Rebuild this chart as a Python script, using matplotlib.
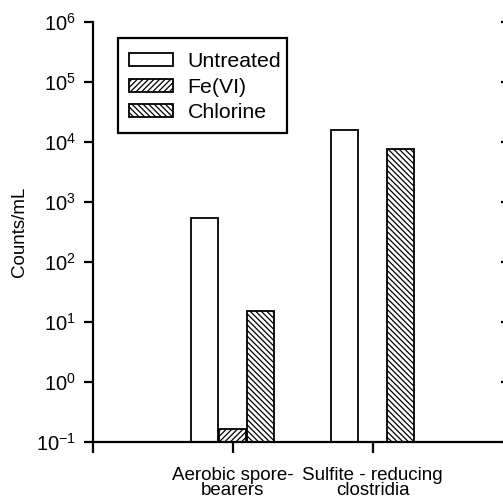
import numpy as np
import matplotlib
matplotlib.use("Agg")
import matplotlib.pyplot as plt
from matplotlib.ticker import LogLocator, NullLocator, FixedLocator
from matplotlib.patches import Rectangle
from matplotlib.transforms import ScaledTranslation
import matplotlib.lines as mlines

plt.rcParams['font.family'] = ['Liberation Sans', 'DejaVu Sans']
plt.rcParams['mathtext.fontset'] = 'custom'
plt.rcParams['mathtext.rm'] = 'Liberation Sans'
plt.rcParams['hatch.linewidth'] = 0.9

categories = ["Aerobic spore-\nbearers", "Sulfite - reducing\nclostridia"]
series_names = ["Untreated", "Fe(VI)", "Chlorine"]
untreated = [530, 15700]
fe_vi = [0.16, np.nan]
chlorine = [15, 7470]
hatches = ["", "//////", "\\\\\\\\\\\\"]

fig = plt.figure(figsize=(5.03, 5.04), dpi=100)
ax = fig.add_axes([92.7/503, 62.3/504, 420/503, 420/504])

x = np.arange(1, len(categories) + 1)
width = 0.19
offsets = [-0.2, 0.0, 0.2]
for vals, name, h, off in zip([untreated, fe_vi, chlorine], series_names, hatches, offsets):
    v = np.array(vals, dtype=float)
    ax.bar(x + off, v - 0.1, bottom=0.1, width=width, color="white",
           edgecolor="black", linewidth=1.3, hatch=h, label=name)

ax.set_yscale('log')
ax.set_ylim(0.1, 1e6)
ax.set_xlim(0, 3)
ax.yaxis.set_major_locator(LogLocator(base=10, numticks=20))
ax.yaxis.set_minor_locator(NullLocator())
ax.set_xticks(x)
ax.set_xticklabels(categories, fontsize=13.5, linespacing=0.9)
ax.xaxis.set_minor_locator(FixedLocator([0, 3]))
for lab in ax.get_xticklabels():
    lab.set_transform(lab.get_transform() + ScaledTranslation(-6/100, 0, fig.dpi_scale_trans))
ax.xaxis.label.set_visible(False)

for s in ['top', 'right']:
    ax.spines[s].set_visible(False)
for s in ['left', 'bottom']:
    ax.spines[s].set_linewidth(1.6)

ax.tick_params(axis='y', which='major', direction='out', length=6.5, width=1.6,
               labelsize=14.5, pad=5.5, right=True)
ax.tick_params(axis='x', which='both', direction='out', length=8, width=1.6, pad=10)
for t in ax.yaxis.get_major_ticks():
    t.tick2line.set_marker(mlines.TICKLEFT)
    t.tick2line.set_markersize(9)
    t.tick2line.set_markeredgewidth(1.6)

ax.set_ylabel("Counts/mL", fontsize=13.5, labelpad=6)

leg_fs = 15.3
leg = ax.legend(loc='upper left', bbox_to_anchor=(118/503, 1 - 41/504),
                bbox_transform=fig.transFigure, borderaxespad=0,
                frameon=False, fontsize=leg_fs,
                handlelength=2.07, handleheight=0.56, handletextpad=0.69,
                labelspacing=0.31, borderpad=0.52)
fig.patches.append(Rectangle((118/503, 1 - 133.3/504), (286.7-118)/503, (133.3-38)/504,
                             transform=fig.transFigure, fill=False,
                             edgecolor='black', linewidth=1.6, zorder=5))

fig.savefig("out.png", dpi=100)
